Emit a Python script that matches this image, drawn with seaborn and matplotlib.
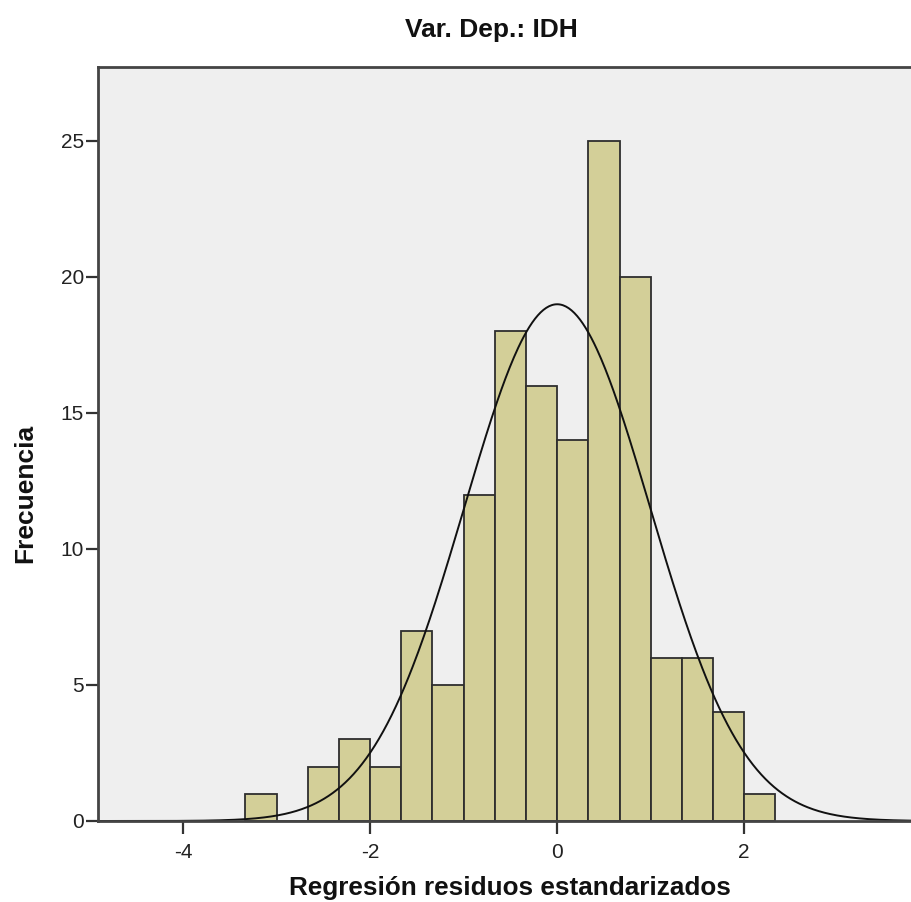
import numpy as np
import pandas as pd
import matplotlib
matplotlib.use("Agg")
import matplotlib.pyplot as plt
import seaborn as sns

# ---- data ----
bin_edges = [k / 3 for k in range(-10, 8)]          # bins of width 1/3 from -3.33 to 2.33
counts = [1, 0, 2, 3, 2, 7, 5, 12, 18, 16, 14, 25, 20, 6, 6, 4, 1]
fit_mean = 0.0
fit_sd = 0.994
n_obs = sum(counts)
xticks = [-4, -2, 0, 2]
yticks = [0, 5, 10, 15, 20, 25]
title = "Var. Dep.: IDH"
xlabel = "Regresión residuos estandarizados"
ylabel = "Frecuencia"

sns.set_theme(style="white")
plt.rcParams['font.family'] = ['Liberation Sans', 'DejaVu Sans']
plt.rcParams['axes.unicode_minus'] = False

centers = [(bin_edges[i] + bin_edges[i + 1]) / 2 for i in range(len(counts))]
df = pd.DataFrame({"x": centers, "w": counts})

fig = plt.figure(figsize=(9.12, 9.02), dpi=100)
ax = fig.add_axes([98 / 912, 81 / 902, 823 / 912, 754 / 902])
ax.set_facecolor("#EFEFEF")

sns.histplot(data=df, x="x", weights="w", bins=bin_edges, ax=ax,
             color="#D3CF98", alpha=1.0, edgecolor="#2E2E2E", linewidth=1.3)

bw = bin_edges[1] - bin_edges[0]
xs = np.linspace(-5, 4, 600)
ys = n_obs * bw * np.exp(-0.5 * ((xs - fit_mean) / fit_sd) ** 2) / (fit_sd * np.sqrt(2 * np.pi))
sns.lineplot(x=xs, y=ys, ax=ax, color="#111111", linewidth=1.4)

ax.set_xlim(-4.91, 3.89)
ax.set_ylim(0, 27.72)
ax.set_xticks(xticks)
ax.set_yticks(yticks)
ax.tick_params(axis="both", which="major", bottom=True, left=True, direction="out",
               length=9, width=1.6, color="#333333",
               labelsize=15, labelcolor="#222222", pad=1)
ax.tick_params(axis="x", pad=7)
for side in ["left", "bottom", "top"]:
    ax.spines[side].set_color("#444444")
    ax.spines[side].set_linewidth(2.0)
ax.spines["right"].set_visible(False)

ax.set_xlabel(xlabel, fontsize=18.8, fontweight="bold", color="#111111", labelpad=10)
ax.set_ylabel(ylabel, fontsize=19, fontweight="bold", color="#111111", labelpad=18)
ax.yaxis.set_label_coords(-0.0735, 0.435)
fig.text(491 / 912, 1 - 30 / 902, title, fontsize=19, fontweight="bold",
         color="#111111", ha="center", va="center")

fig.savefig("out.png", dpi=100)
